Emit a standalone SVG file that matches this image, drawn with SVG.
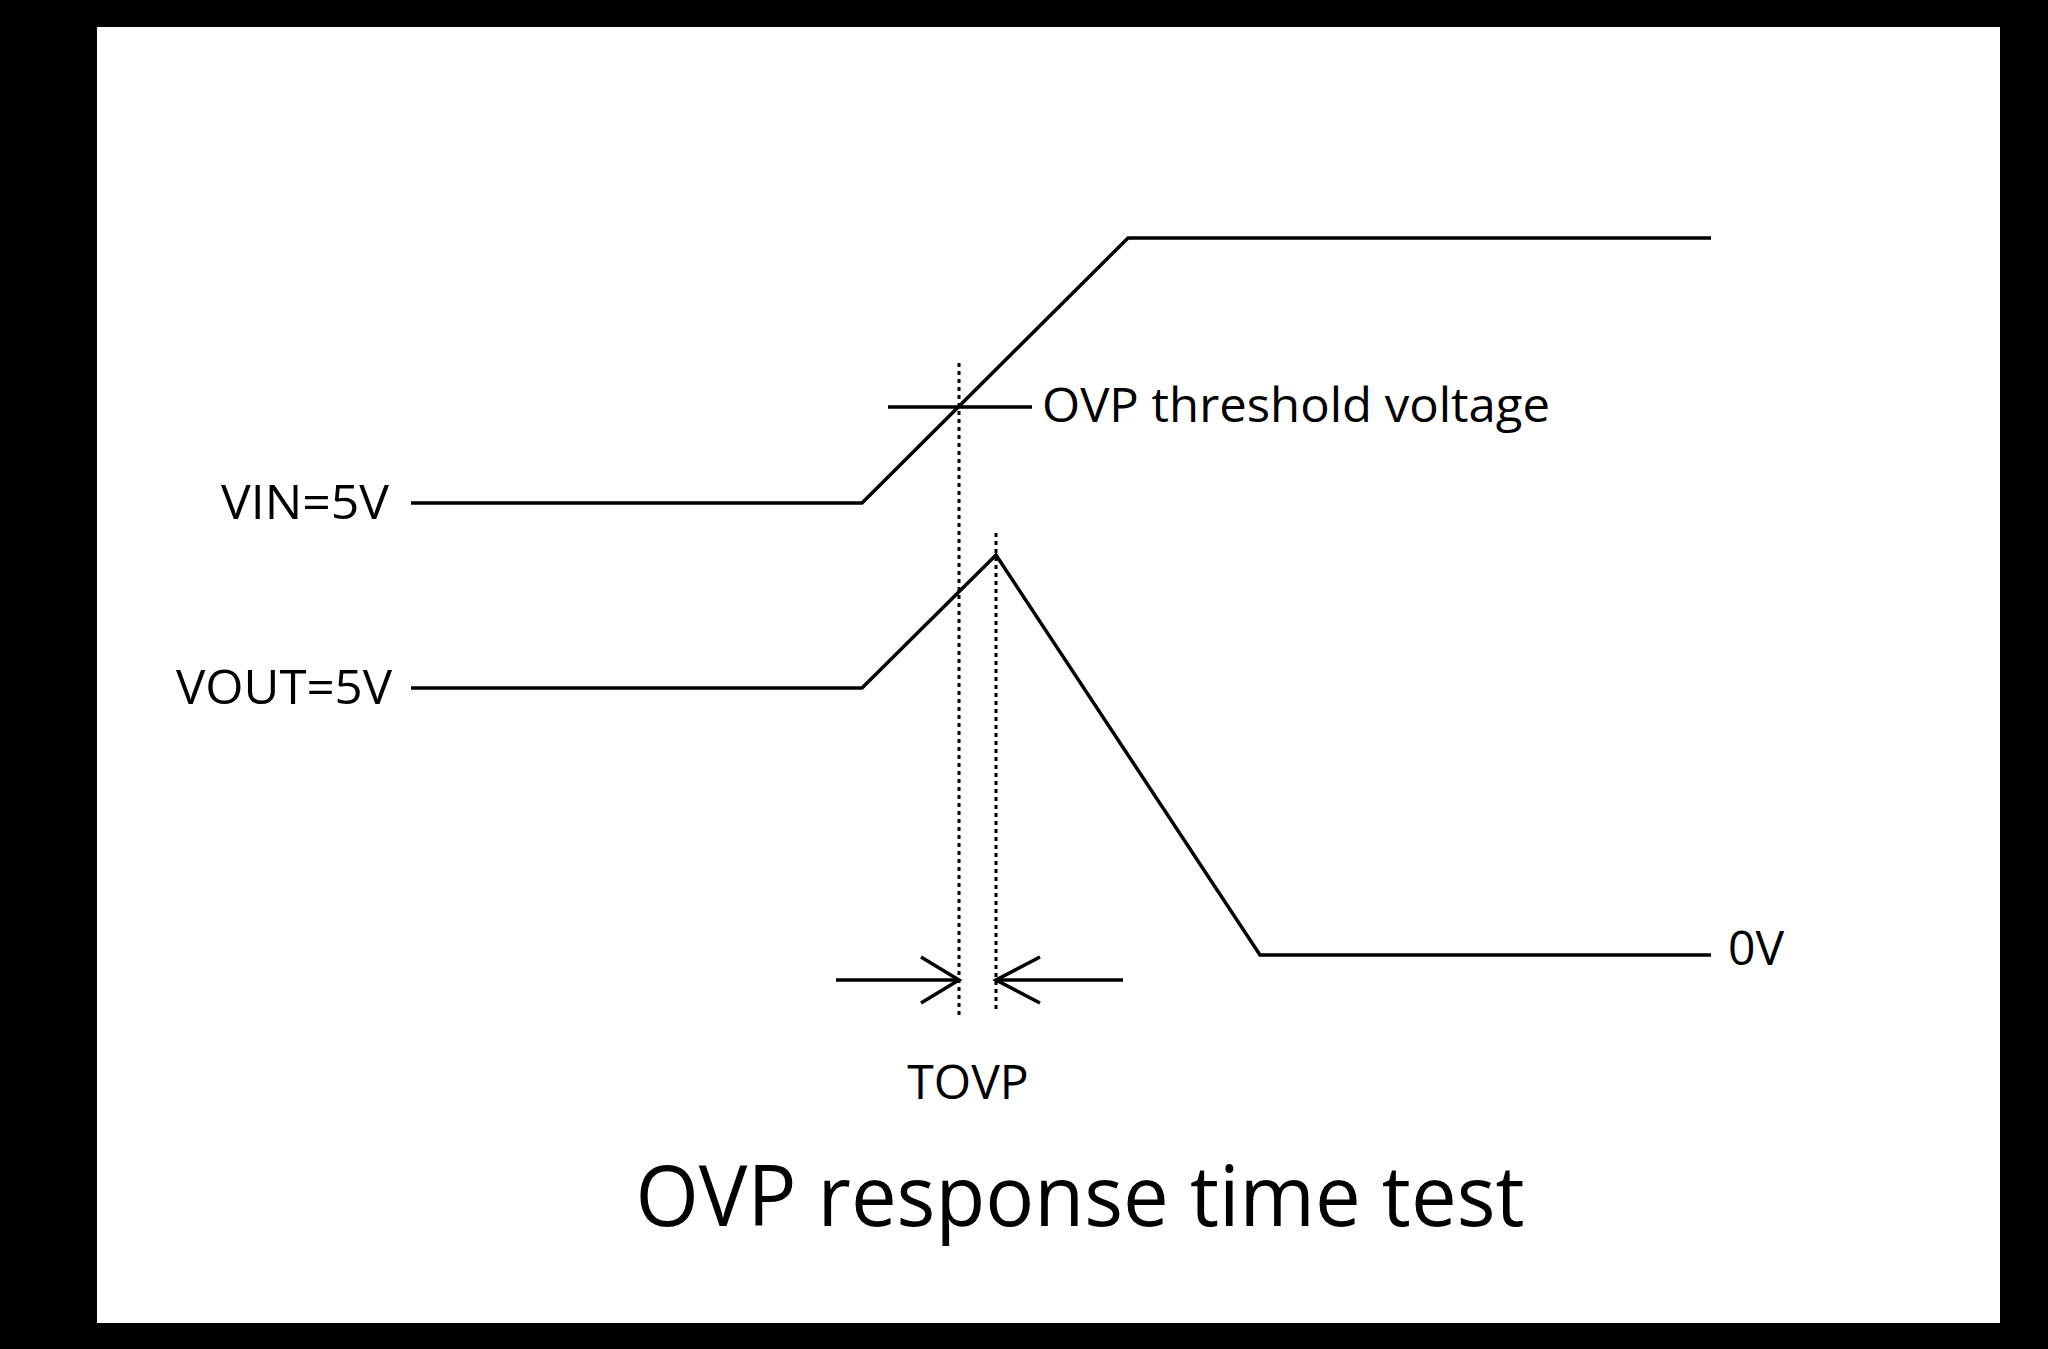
<svg xmlns="http://www.w3.org/2000/svg" width="2048" height="1349" viewBox="0 0 2048 1349">
<style>
.w{fill:none;stroke:#000;stroke-width:3.5}
.d{fill:none;stroke:#000;stroke-width:3;stroke-dasharray:4 4}
text{font-family:"Open Sans","Liberation Sans",sans-serif;fill:#000}
</style>
<rect width="2048" height="1349" fill="#000"/>
<rect x="97" y="27" width="1903" height="1296" fill="#fff"/>
<g id="vin"><polyline class="w" points="411,503 862,503 1128,238 1711,238"/><text x="389" y="519" font-size="48" textLength="168" lengthAdjust="spacingAndGlyphs" text-anchor="end">VIN=5V</text></g>
<g id="threshold"><line class="w" x1="888" y1="407" x2="1032" y2="407"/><text x="1042" y="422" font-size="47" textLength="508" lengthAdjust="spacingAndGlyphs">OVP threshold voltage</text></g>
<g id="vout"><polyline class="w" points="411,688 862,688 996,555 1260,955 1711,955"/><text x="392" y="704" font-size="48" textLength="216" lengthAdjust="spacingAndGlyphs" text-anchor="end">VOUT=5V</text><text x="1728" y="965" font-size="48">0V</text></g>
<g id="connectors">
<line class="d" x1="959" y1="363" x2="959" y2="1015"/>
<line class="d" x1="996" y1="533" x2="996" y2="1010"/>
<polyline class="w" points="836,980 959,980"/><polyline class="w" points="921,957 959,980 921,1003"/>
<polyline class="w" points="1123,980 996,980"/><polyline class="w" points="1040,957 996,980 1040,1003"/>
</g>
<g id="tovp"><text x="968" y="1099" font-size="48" text-anchor="middle">TOVP</text></g>
<g id="title"><text x="1080" y="1226" font-size="84" text-anchor="middle" textLength="889" lengthAdjust="spacingAndGlyphs">OVP response time test</text></g>
</svg>
